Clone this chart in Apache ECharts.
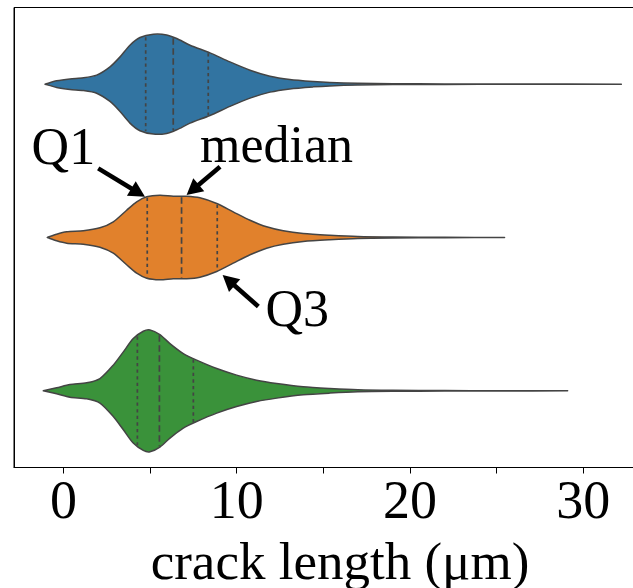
<!DOCTYPE html>
<html>
<head>
<meta charset="utf-8">
<script src="https://cdn.jsdelivr.net/npm/echarts@6/dist/echarts.min.js"></script>
<style>html,body{margin:0;padding:0;background:#fff}#c{width:633px;height:588px}</style>
</head>
<body>
<div id="c"></div>
<script>
// ---- data ----
const groups = ['group 1', 'group 2', 'group 3'];
const colors = ['#3274a1', '#e1812c', '#3a923a'];

// density profiles along crack length (relative density, 1 = widest violin)
const blueX = [-1.06, -0.39, 0.38, 1.15, 1.92, 2.69, 3.27, 3.84, 4.42, 5.19, 5.96, 6.54, 7.31, 8.46, 9.61, 10.77, 11.92, 13.07, 14.42, 15.38, 17, 19, 22, 26, 32.2];
const blueD = [0, 0.054, 0.086, 0.103, 0.147, 0.282, 0.445, 0.635, 0.76, 0.814, 0.803, 0.744, 0.635, 0.51, 0.363, 0.228, 0.13, 0.077, 0.044, 0.028, 0.013, 0.007, 0.004, 0.002, 0];
const orangeX = [-0.93, -0.39, 0.19, 1.15, 2.11, 2.88, 3.65, 4.23, 4.81, 5.57, 6.34, 7.11, 7.88, 8.85, 9.8, 10.77, 11.73, 12.69, 13.84, 15.38, 17, 19, 22, 25.46];
const orangeD = [0, 0.054, 0.093, 0.109, 0.158, 0.256, 0.445, 0.581, 0.663, 0.689, 0.673, 0.673, 0.647, 0.554, 0.419, 0.282, 0.174, 0.109, 0.065, 0.037, 0.016, 0.008, 0.004, 0];
const greenX = [-1.16, -0.39, 0.38, 1.34, 2.11, 2.88, 3.46, 4.03, 4.61, 5.0, 5.57, 6.15, 6.92, 7.69, 8.85, 10.0, 11.15, 12.31, 13.84, 15.38, 17, 19, 22, 25, 29.1];
const greenD = [0, 0.049, 0.103, 0.13, 0.2, 0.419, 0.635, 0.852, 0.972, 0.993, 0.917, 0.77, 0.607, 0.5, 0.363, 0.256, 0.174, 0.119, 0.065, 0.037, 0.016, 0.008, 0.004, 0.002, 0];

// quartiles [Q1, median, Q3]
const blueQ = [4.75, 6.34, 8.36];
const orangeQ = [4.84, 6.82, 8.88];
const greenQ = [4.27, 5.54, 7.50];

// axis ticks
const tickValues = [0, 5, 10, 15, 20, 25, 30];
const labelValues = [0, 10, 20, 30];
const xName = 'crack length (μm)';

// annotations in data units
const annLabels = ['Q1', 'median', 'Q3'];
const annText = [[0.0, 0.538], [12.3, 0.522], [13.5, 1.591]];
const annArrows = [[2.01, 0.549, 4.71, 0.734], [9.04, 0.538, 7.11, 0.723], [11.25, 1.45, 9.19, 1.244]];

// ---- chart ----
const HALF = 0.4;
const FONT = 'Liberation Serif';
const OUTLINE = '#444444';

function interp(xs, ds, x) {
  for (let i = 0; i < xs.length - 1; i++) {
    if (x >= xs[i] && x <= xs[i + 1]) {
      const t = (x - xs[i]) / (xs[i + 1] - xs[i]);
      return ds[i] + t * (ds[i + 1] - ds[i]);
    }
  }
  return 0;
}

function violinSeries(idx, xs, ds, qs) {
  return {
    type: 'custom',
    name: groups[idx],
    data: [[idx]],
    renderItem: function (params, api) {
      const c = api.value(0);
      const pts = [];
      for (let i = 0; i < xs.length; i++) pts.push(api.coord([xs[i], c - ds[i] * HALF]));
      for (let i = xs.length - 1; i >= 0; i--) pts.push(api.coord([xs[i], c + ds[i] * HALF]));
      const children = [{
        type: 'polygon',
        shape: { points: pts, smooth: 0.25 },
        style: { fill: colors[idx], stroke: OUTLINE, lineWidth: 1.5, lineJoin: 'round' }
      }];
      qs.forEach(function (q, k) {
        const d = interp(xs, ds, q);
        const p1 = api.coord([q, c - d * HALF]);
        const p2 = api.coord([q, c + d * HALF]);
        children.push({
          type: 'line',
          shape: { x1: p1[0], y1: p1[1] + 1, x2: p2[0], y2: p2[1] - 1 },
          style: { stroke: OUTLINE, lineWidth: 1.7, lineDash: k === 1 ? [6.5, 3.5] : [3.3, 3.3] }
        });
      });
      return { type: 'group', children: children };
    },
    z: 2
  };
}

const annSeries = {
  type: 'custom',
  data: annLabels.map(function (l, i) { return [i]; }),
  renderItem: function (params, api) {
    const i = api.value(0);
    const a = annArrows[i];
    const tail = api.coord([a[0], a[1]]);
    const tip = api.coord([a[2], a[3]]);
    const dx = tip[0] - tail[0], dy = tip[1] - tail[1];
    const len = Math.sqrt(dx * dx + dy * dy);
    const ux = dx / len, uy = dy / len;
    const hl = 16, hw = 8.5;
    const base = [tip[0] - ux * hl, tip[1] - uy * hl];
    const tp = api.coord(annText[i]);
    return {
      type: 'group',
      children: [
        { type: 'line', shape: { x1: tail[0], y1: tail[1], x2: base[0] + ux * 2, y2: base[1] + uy * 2 },
          style: { stroke: '#000', lineWidth: 4.5 } },
        { type: 'polygon', shape: { points: [tip, [base[0] - uy * hw, base[1] + ux * hw], [base[0] + uy * hw, base[1] - ux * hw]] },
          style: { fill: '#000' } },
        { type: 'text', x: tp[0], y: tp[1] + 10,
          style: { text: annLabels[i], fill: '#000', fontSize: 52, fontFamily: FONT, align: 'center', verticalAlign: 'bottom' } }
      ]
    };
  },
  z: 5
};

const chart = echarts.init(document.getElementById('c'), null, { renderer: 'canvas' });
chart.setOption({
  animation: false,
  backgroundColor: '#fff',
  grid: { left: 14, right: -1, top: 7.5, bottom: 120.5, outerBoundsMode: 'none', containLabel: false,
          show: true, borderColor: '#000', borderWidth: 1, backgroundColor: 'transparent' },
  xAxis: {
    type: 'value', min: -2.85, max: 32.93,
    axisLine: { show: true, onZero: false, lineStyle: { color: '#000', width: 1 } },
    axisTick: { show: true, length: 6, lineStyle: { color: '#000', width: 1 }, customValues: tickValues },
    axisLabel: { customValues: labelValues, fontSize: 54, fontFamily: FONT, color: '#000', margin: 9 },
    splitLine: { show: false },
    name: xName, nameLocation: 'middle', nameGap: 71,
    nameTextStyle: { fontSize: 53, fontFamily: FONT, color: '#000', padding: [0, 0, 0, 32] }
  },
  yAxis: {
    type: 'value', min: -0.5, max: 2.5, inverse: true,
    axisLine: { show: true, onZero: false, lineStyle: { color: '#000', width: 1 } },
    axisTick: { show: false }, axisLabel: { show: false }, splitLine: { show: false }
  },
  series: [
    violinSeries(0, blueX, blueD, blueQ),
    violinSeries(1, orangeX, orangeD, orangeQ),
    violinSeries(2, greenX, greenD, greenQ),
    annSeries
  ]
});
</script>
</body>
</html>
